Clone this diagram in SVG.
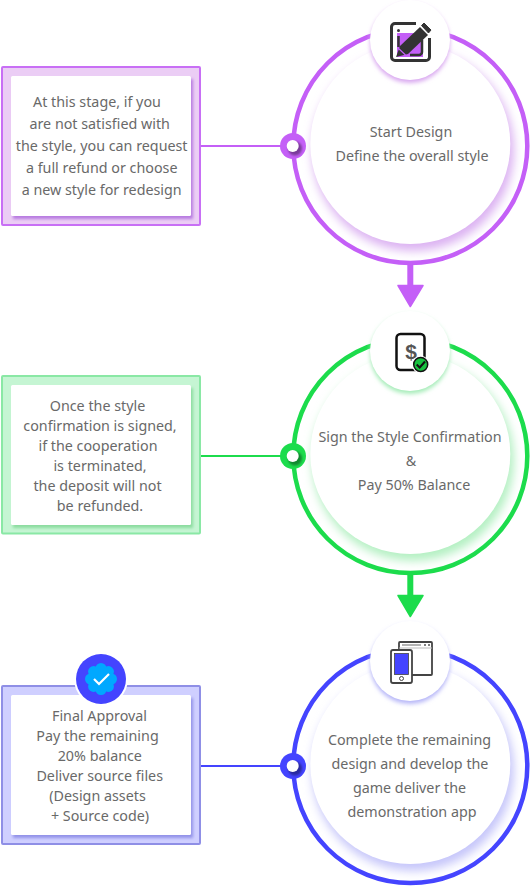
<svg xmlns="http://www.w3.org/2000/svg" width="532" height="886" viewBox="0 0 532 886">
<style>
text{font-family:"Noto Sans","Open Sans","Liberation Sans",sans-serif;font-size:14.3px;fill:#696969;text-anchor:middle}
.ring{fill:none;stroke-width:4.500}
.p{fill:#c45ff7}.g{fill:#1cdc4c}.b{fill:#4444ff}
.box{stroke-width:2}
</style>
<defs>
<filter id="bs" x="-10%" y="-10%" width="125%" height="125%"><feGaussianBlur stdDeviation="1.500"/></filter>
<filter id="is" x="-20%" y="-20%" width="140%" height="140%"><feGaussianBlur stdDeviation="5"/></filter>
<filter id="ds" x="-30%" y="-30%" width="160%" height="160%"><feGaussianBlur stdDeviation="2"/></filter>
<filter id="hs" x="-50%" y="-50%" width="200%" height="200%"><feGaussianBlur stdDeviation="1.200"/></filter>
<clipPath id="dotclip"><circle cx="0" cy="0" r="13"/></clipPath>
<g id="dothole"><g clip-path="url(#dotclip)"><circle cx="2" cy="2.500" r="7" fill="#000" fill-opacity=".38" filter="url(#hs)"/></g><circle cx="-.3" r="6" fill="#fff"/></g>
</defs>
<g id="connectors">
<path d="M201 146H284" stroke="#c45ff7" stroke-width="2"/>
<path d="M201 456H284" stroke="#1cdc4c" stroke-width="2"/>
<path d="M201 766H284" stroke="#4444ff" stroke-width="2"/>
<path d="M410.300 262V288" stroke="#c45ff7" stroke-width="6"/>
<path d="M398 285.500H423L410.300 306.500Z" fill="#c45ff7" stroke="#c45ff7" stroke-width="1.500" stroke-linejoin="round"/>
<path d="M410.300 572V598" stroke="#1cdc4c" stroke-width="6"/>
<path d="M398 595.500H423L410.300 616.500Z" fill="#1cdc4c" stroke="#1cdc4c" stroke-width="1.500" stroke-linejoin="round"/>
</g>
<g id="step-1">
<circle cx="410.300" cy="146" r="117" class="ring" stroke="#c45ff7"/>
<circle cx="413" cy="150" r="101" fill="#dcb2f2" filter="url(#is)"/>
<circle cx="410.300" cy="144" r="100" fill="#fff"/>
<text x="411" y="137">Start Design</text>
<text x="412" y="161">Define the overall style</text>
<circle cx="410" cy="43" r="40" fill="#d9a8f0" filter="url(#ds)"/>
<circle cx="410" cy="40" r="40" fill="#fff"/>
<g id="icon-edit">
<rect x="397" y="33" width="26" height="24" fill="#c45ff7"/>
<path d="M416 23.500H395a3.500 3.500 0 0 0-3.500 3.500V57a3.500 3.500 0 0 0 3.500 3.500H426a3.500 3.500 0 0 0 3.500-3.500V38" fill="none" stroke="#333" stroke-width="3"/>
<path d="M398.500 36V47M422 40V52a3 3 0 0 1-3 3H410" fill="none" stroke="#333" stroke-width="2.500"/>
<circle cx="398.500" cy="30.500" r="1.500" fill="#333"/>
<path d="M396 57L400 46L420 27L428 35L408 54Z" fill="#333"/>
<path d="M421.500 25.500L424 23L431 30L428.500 33Z" fill="#333" stroke="#333" stroke-linejoin="round"/>
<path d="M397.500 47.500L405.500 55" stroke="#c45ff7" stroke-width="1.200"/>
</g>
<circle cx="293" cy="146" r="13" class="p"/>
<use href="#dothole" x="293" y="146"/>
</g>
<g id="note-1">
<rect x="2" y="67" width="198" height="158" rx="1" fill="#ebcdf5" stroke="#c86ff5" class="box"/>
<rect x="13" y="79" width="180" height="140" fill="#b77be0" filter="url(#bs)"/>
<rect x="11" y="76" width="180" height="140" rx="1.500" fill="#fff"/>
<text x="97" y="107">At this stage, if you</text>
<text x="99.700" y="129">are not satisfied with</text>
<text x="101.700" y="151">the style, you can request</text>
<text x="101.700" y="173">a full refund or choose</text>
<text x="101.700" y="195">a new style for redesign</text>
</g>
<g id="step-2">
<circle cx="410.300" cy="456" r="117" class="ring" stroke="#1cdc4c"/>
<circle cx="413" cy="460" r="101" fill="#b4f0c2" filter="url(#is)"/>
<circle cx="410.300" cy="454" r="100" fill="#fff"/>
<text x="410" y="442">Sign the Style Confirmation</text>
<text x="411" y="466">&amp;</text>
<text x="414" y="490">Pay 50% Balance</text>
<circle cx="410" cy="354" r="40" fill="#a5ecb8" filter="url(#ds)"/>
<circle cx="410" cy="351" r="40" fill="#fff"/>
<g id="icon-doc">
<rect x="396.500" y="334" width="28" height="36" rx="4" fill="none" stroke="#111" stroke-width="2.500"/>
<text x="411" y="359" style="font-size:21px;font-weight:700;fill:#555;font-family:'Liberation Sans',sans-serif">$</text>
<circle cx="420.700" cy="364.500" r="8.800" fill="#fff"/>
<circle cx="420.700" cy="364.500" r="7" fill="#17c13f" stroke="#111" stroke-width="1.500"/>
<path d="M416.700 364.500L419.700 367.500L425 361.500" fill="none" stroke="#111" stroke-width="2"/>
</g>
<circle cx="293" cy="456" r="13" class="g"/>
<use href="#dothole" x="293" y="456"/>
</g>
<g id="note-2">
<rect x="2" y="376" width="198" height="157.500" rx="1" fill="#c5f5d3" stroke="#8ae8a5" class="box"/>
<rect x="13" y="388" width="180" height="140" fill="#8bdc9f" filter="url(#bs)"/>
<rect x="11" y="385" width="180" height="140" rx="1.500" fill="#fff"/>
<text x="97.500" y="411">Once the style</text>
<text x="100" y="431">confirmation is signed,</text>
<text x="98" y="451">if the cooperation</text>
<text x="100" y="471">is terminated,</text>
<text x="97.500" y="491">the deposit will not</text>
<text x="100" y="511">be refunded.</text>
</g>
<g id="step-3">
<circle cx="410.300" cy="766" r="117" class="ring" stroke="#4444ff"/>
<circle cx="413" cy="770" r="101" fill="#c6c6fa" filter="url(#is)"/>
<circle cx="410.300" cy="764" r="100" fill="#fff"/>
<text x="409.500" y="745">Complete the remaining</text>
<text x="410" y="769">design and develop the</text>
<text x="409.500" y="793">game deliver the</text>
<text x="412" y="817">demonstration app</text>
<circle cx="410" cy="664" r="40" fill="#b5b5f8" filter="url(#ds)"/>
<circle cx="410" cy="661" r="40" fill="#fff"/>
<g id="icon-devices">
<rect x="399" y="642" width="33" height="33" rx="1" fill="#fff" stroke="#444" stroke-width="1.800"/>
<path d="M399 648H432" stroke="#bbb" stroke-width="1"/>
<path d="M402 645H421" stroke="#999" stroke-width="1.500"/>
<path d="M424 645H426M428 645H430" stroke="#555" stroke-width="1.500"/>
<rect x="391" y="650" width="21" height="33" rx="2" fill="#fff" stroke="#444" stroke-width="1.800"/>
<rect x="394.500" y="653.500" width="14" height="21" fill="#4444ff" stroke="#444" stroke-width=".8"/>
<circle cx="401.500" cy="678.500" r="2" fill="none" stroke="#444" stroke-width="1"/>
</g>
<circle cx="293" cy="766" r="13" class="b"/>
<use href="#dothole" x="293" y="766"/>
</g>
<g id="note-3">
<rect x="2" y="686" width="198" height="158" rx="1" fill="#cfcfff" stroke="#8f8fe6" class="box"/>
<rect x="13" y="698" width="180" height="140" fill="#9393e8" filter="url(#bs)"/>
<rect x="11" y="695" width="180" height="140" rx="1.500" fill="#fff"/>
<text x="99.500" y="721">Final Approval</text>
<text x="97.500" y="741">Pay the remaining</text>
<text x="99.800" y="761">20% balance</text>
<text x="99.700" y="781">Deliver source files</text>
<text x="97.500" y="801">(Design assets</text>
<text x="100" y="821">+ Source code)</text>
<g id="badge">
<circle cx="101" cy="679" r="27" fill="#fff"/>
<circle cx="101" cy="679" r="25" fill="#4444ff"/>
<g fill="#00a8ff">
<circle cx="101" cy="679" r="13"/>
<circle cx="101" cy="668.500" r="5.500"/><circle cx="108.400" cy="671.600" r="5.500"/><circle cx="111.500" cy="679" r="5.500"/><circle cx="108.400" cy="686.400" r="5.500"/><circle cx="101" cy="689.500" r="5.500"/><circle cx="93.600" cy="686.400" r="5.500"/><circle cx="90.500" cy="679" r="5.500"/><circle cx="93.600" cy="671.600" r="5.500"/>
</g>
<path d="M94 679L99 684L109 674" fill="none" stroke="#fff" stroke-width="2.200"/>
</g>
</g>
</svg>
